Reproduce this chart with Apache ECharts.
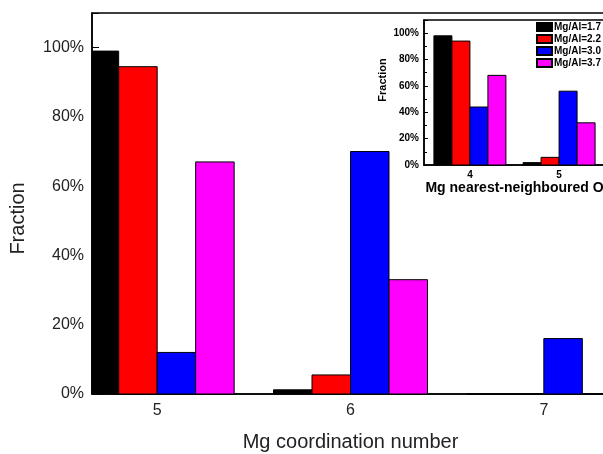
<!DOCTYPE html>
<html>
<head>
<meta charset="utf-8">
<script src="https://cdn.jsdelivr.net/npm/echarts@6/dist/echarts.min.js"></script>
<style>html,body{margin:0;padding:0;background:#fff}#c{width:603px;height:454px}</style>
</head>
<body>
<div id="c"></div>
<script>
// ---- data ----
const seriesNames = ['Mg/Al=1.7', 'Mg/Al=2.2', 'Mg/Al=3.0', 'Mg/Al=3.7'];
const seriesColors = ['#000000', '#ff0000', '#0000ff', '#ff00ff'];

// main chart: Mg coordination number
const mainCategories = [5, 6, 7];
const mainMgAl17 = [99, 1.2, 0];
const mainMgAl22 = [94.5, 5.5, 0];
const mainMgAl30 = [12, 70, 16];
const mainMgAl37 = [67, 33, 0];

// inset: Mg nearest-neighboured O
const insetCategories = [4, 5];
const insetMgAl17 = [98, 1.8];
const insetMgAl22 = [94, 5.8];
const insetMgAl30 = [44, 56];
const insetMgAl37 = [68, 32];

const yTicks = [0, 20, 40, 60, 80, 100];

const mainValues = [mainMgAl17, mainMgAl22, mainMgAl30, mainMgAl37];
const insetValues = [insetMgAl17, insetMgAl22, insetMgAl30, insetMgAl37];

// bars drawn through the axis scales (api.coord) and clipped to the plot area
function barRenderer(seriesIdx, barW, color) {
  return function (params, api) {
    const x = api.value(0), v = api.value(1);
    const base = api.coord([x, 0]);
    const top = api.coord([x, v]);
    const left = base[0] + (seriesIdx - 2) * barW;
    const cs = params.coordSys;
    const rect = echarts.graphic.clipRectByRect(
      { x: left, y: top[1], width: barW, height: base[1] - top[1] },
      { x: cs.x, y: cs.y, width: cs.width, height: cs.height }
    );
    if (!rect) return;
    return { type: 'rect', shape: rect, style: { fill: color, stroke: '#000', lineWidth: 1 } };
  };
}

const series = [];
mainValues.forEach((vals, s) => {
  series.push({
    name: seriesNames[s], type: 'custom', xAxisIndex: 0, yAxisIndex: 0,
    renderItem: barRenderer(s, 38.5, seriesColors[s]),
    encode: { x: 0, y: 1 },
    itemStyle: { color: seriesColors[s], borderColor: '#000', borderWidth: 1 },
    data: mainCategories.map((c, i) => [c, vals[i]])
  });
});
insetValues.forEach((vals, s) => {
  series.push({
    name: seriesNames[s], type: 'custom', xAxisIndex: 1, yAxisIndex: 1,
    renderItem: barRenderer(s, 18, seriesColors[s]),
    encode: { x: 0, y: 1 },
    itemStyle: { color: seriesColors[s], borderColor: '#000', borderWidth: 1 },
    data: insetCategories.map((c, i) => [c, vals[i]])
  });
});

const chart = echarts.init(document.getElementById('c'), null, { renderer: 'canvas' });
chart.setOption({
  animation: false,
  backgroundColor: '#fff',
  grid: [
    { left: 92, top: 13, width: 517, height: 381, show: true, borderColor: '#000', borderWidth: 1.5, backgroundColor: 'transparent', outerBoundsMode: 'none', containLabel: false },
    { left: 424, top: 20, width: 181, height: 145, show: true, borderColor: '#000', borderWidth: 1.5, backgroundColor: 'transparent', outerBoundsMode: 'none', containLabel: false }
  ],
  legend: {
    orient: 'vertical', left: 536, top: 21, width: 80, padding: 0, itemWidth: 15, itemHeight: 8, itemGap: 0,
    icon: 'rect',
    textStyle: { fontFamily: 'Liberation Sans, Arial', fontWeight: 'bold', fontSize: 10, color: '#000', lineHeight: 12, padding: [0, 0, 0, -3], overflow: 'none' },
    data: seriesNames
  },
  xAxis: [
    {
      type: 'value', gridIndex: 0, min: 4.663, max: 7.337,
      axisLine: { show: true, lineStyle: { color: '#000', width: 1.5 } },
      axisTick: { show: false }, splitLine: { show: false },
      axisLabel: { customValues: mainCategories, fontSize: 16, color: '#222', margin: 9, fontFamily: 'Liberation Sans, Arial' },
      name: 'Mg coordination number', nameLocation: 'middle', nameGap: 38,
      nameTextStyle: { fontSize: 20, color: '#222', fontFamily: 'Liberation Sans, Arial' }
    },
    {
      type: 'value', gridIndex: 1, min: 3.485, max: 5.515,
      axisLine: { show: true, lineStyle: { color: '#000', width: 1.5 } },
      axisTick: { show: false }, splitLine: { show: false },
      axisLabel: { customValues: insetCategories, fontSize: 10, fontWeight: 'bold', color: '#000', margin: 5, fontFamily: 'Liberation Sans, Arial' },
      name: 'Mg nearest-neighboured O', nameLocation: 'middle', nameGap: 15,
      nameTextStyle: { fontSize: 14, fontWeight: 'bold', color: '#000', fontFamily: 'Liberation Sans, Arial' }
    }
  ],
  yAxis: [
    {
      type: 'value', gridIndex: 0, min: 0, max: 110, interval: 20,
      axisLine: { show: true, lineStyle: { color: '#000', width: 1.5 } },
      axisTick: { show: true, inside: true, length: 7, lineStyle: { color: '#000' } },
      splitLine: { show: false },
      axisLabel: { customValues: yTicks, formatter: v => v + '%', fontSize: 16, color: '#222', margin: 8, fontFamily: 'Liberation Sans, Arial' },
      name: 'Fraction', nameLocation: 'middle', nameGap: 64,
      nameTextStyle: { fontSize: 20, color: '#222', fontFamily: 'Liberation Sans, Arial', padding: [0, 30, 0, 0] }
    },
    {
      type: 'value', gridIndex: 1, min: 0, max: 110, interval: 20,
      axisLine: { show: true, lineStyle: { color: '#000', width: 1.5 } },
      axisTick: { show: true, inside: true, length: 4, lineStyle: { color: '#000' } },
      minorTick: { show: true, splitNumber: 2, length: 3, lineStyle: { color: '#000' } },
      splitLine: { show: false },
      axisLabel: { customValues: yTicks, formatter: v => v + '%', fontSize: 10, fontWeight: 'bold', color: '#000', margin: 5, fontFamily: 'Liberation Sans, Arial' },
      name: 'Fraction', nameLocation: 'middle', nameGap: 36,
      nameTextStyle: { fontSize: 11, fontWeight: 'bold', color: '#000', fontFamily: 'Liberation Sans, Arial', padding: [0, 0, 0, 25] }
    }
  ],
  series: series
});
</script>
</body>
</html>
